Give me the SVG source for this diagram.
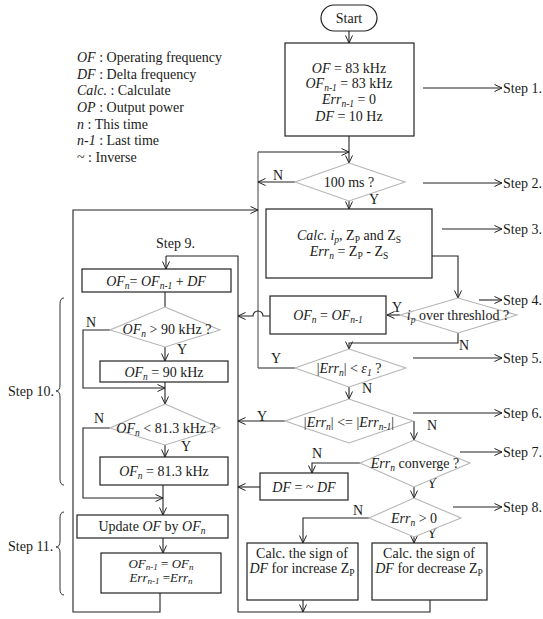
<svg xmlns="http://www.w3.org/2000/svg" width="543" height="619" viewBox="0 0 543 619">
<defs>
<marker id="ah" viewBox="0 0 8 8" refX="8" refY="4" markerWidth="8" markerHeight="8" orient="auto" markerUnits="userSpaceOnUse"><path d="M0.5,0.5 L8,4 L0.5,7.5" fill="none" stroke="#222" stroke-width="1"/></marker>
</defs>
<style>
text{font-family:"Liberation Serif","Times New Roman",serif;font-size:14px;fill:#1a1a1a}
.c{text-anchor:middle}
.i{font-style:italic}
.s{font-size:9.5px;baseline-shift:-3px}
.t{font-size:13px}
.t .s{font-size:9px;baseline-shift:-2px}
.box{fill:#fff;stroke:#222;stroke-width:1.2}
.dia{fill:#fff;stroke:#b5b5b5;stroke-width:1.1}
.ln{fill:none;stroke:#222;stroke-width:1.1}
.gr{fill:none;stroke:#777;stroke-width:1.4}
.ar{marker-end:url(#ah)}
.br{fill:none;stroke:#333;stroke-width:1}
</style>
<rect width="543" height="619" fill="#fff"/>

<g id="legend">
<text x="77" y="62"><tspan class="i">OF</tspan> : Operating frequency</text>
<text x="77" y="78.7"><tspan class="i">DF</tspan> : Delta frequency</text>
<text x="77" y="95.3"><tspan class="i">Calc.</tspan> : Calculate</text>
<text x="77" y="112"><tspan class="i">OP</tspan> : Output power</text>
<text x="77" y="128.7"><tspan class="i">n</tspan> : This time</text>
<text x="77" y="145.3"><tspan class="i">n-1</tspan> : Last time</text>
<text x="77" y="162">~ : Inverse</text>
</g>

<g id="connectors">
<path class="ln ar" d="M349,31 V43"/>
<path class="ln ar" d="M349,136 V163"/>
<path class="gr" d="M258,368 V152"/>
<path class="ln ar" d="M258,152 H349"/>
<path class="ln ar" d="M295,182 H258"/>
<path class="ln ar" d="M349,201 V209"/>
<path class="ln ar" d="M432,256 H458 V298"/>
<path class="ln ar" d="M400,315 H387"/>
<path class="ln ar" d="M270,316 H263 A5,5 0 0 0 253,316 H238"/>
<path class="ln ar" d="M458,333 V343 H349 V349"/>
<path class="ln" d="M295,368 H258"/>
<path class="ln ar" d="M349,387 V399"/>
<path class="ln ar" d="M285,421 H238"/>
<path class="ln ar" d="M414,421 V440"/>
<path class="ln ar" d="M360,463 H312 V473"/>
<path class="ln ar" d="M260,487 H238"/>
<path class="ln ar" d="M414,487 V498"/>
<path class="ln ar" d="M369,518 H303 V543"/>
<path class="ln ar" d="M414,532 V543"/>
<path class="ln ar" d="M303,600 V612"/>
<path class="ln" d="M430,600 V612 H238 V256 H166"/>
<path class="ln ar" d="M166,256 V269"/>
<path class="ln ar" d="M160,593 V612 H73 V210 H258"/>
<path class="ln" d="M165,292 V307"/>
<path class="ln ar" d="M110,330 H83 V388 H165"/>
<path class="ln ar" d="M165,347 V361"/>
<path class="ln ar" d="M165,382 V404"/>
<path class="ln ar" d="M110,428 H83 V498 H163"/>
<path class="ln ar" d="M165,445 V457"/>
<path class="ln ar" d="M163,485 V515"/>
<path class="ln ar" d="M163,538 V553"/>
<path class="ln ar" d="M423,88 H502"/>
<path class="ln ar" d="M423,183 H502"/>
<path class="ln ar" d="M442,229 H502"/>
<path class="ln ar" d="M479,300 H502"/>
<path class="ln ar" d="M413,358 H502"/>
<path class="ln ar" d="M413,413 H502"/>
<path class="ln ar" d="M460,452 H502"/>
<path class="ln ar" d="M453,507 H502"/>
</g>

<g id="labels">
<text x="273" y="180">N</text>
<text x="369" y="204">Y</text>
<text x="392" y="312">Y</text>
<text x="459" y="350">N</text>
<text x="271" y="363">Y</text>
<text x="362" y="393">N</text>
<text x="257" y="421">Y</text>
<text x="427" y="430">N</text>
<text x="312" y="458">N</text>
<text x="427" y="488">Y</text>
<text x="353" y="515">N</text>
<text x="427" y="538">Y</text>
<text x="86" y="327">N</text>
<text x="177" y="354">Y</text>
<text x="94" y="423">N</text>
<text x="181" y="451">Y</text>
<text x="503" y="93">Step 1.</text>
<text x="503" y="188">Step 2.</text>
<text x="503" y="234">Step 3.</text>
<text x="503" y="305">Step 4.</text>
<text x="503" y="363">Step 5.</text>
<text x="503" y="418">Step 6.</text>
<text x="503" y="457">Step 7.</text>
<text x="503" y="512">Step 8.</text>
<text x="156" y="248">Step 9.</text>
<text x="8" y="396">Step 10.</text>
<text x="8" y="551">Step 11.</text>
<path class="br" d="M64,298 Q60,298 60,304 V385 Q60,391 56,391 Q60,391 60,397 V479 Q60,485 64,485"/>
<path class="br" d="M64,512 Q60,512 60,518 V541 Q60,547 56,547 Q60,547 60,553 V589 Q60,595 64,595"/>
</g>

<g id="start">
<rect x="321" y="5" width="56" height="26" rx="13" class="box"/>
<text x="349" y="23" class="c">Start</text>
</g>

<g id="init">
<rect x="285" y="43" width="129" height="93" class="box"/>
<text x="349" y="73" class="c"><tspan class="i">OF</tspan> = 83 kHz</text>
<text x="349" y="88" class="c"><tspan class="i">OF</tspan><tspan class="s i">n-1</tspan> = 83 kHz</text>
<text x="349" y="104" class="c"><tspan class="i">Err</tspan><tspan class="s i">n-1</tspan> = 0</text>
<text x="349" y="121" class="c"><tspan class="i">DF</tspan> = 10 Hz</text>
</g>

<g id="d100ms">
<polygon points="349,163 405,182 349,201 295,182" class="dia"/>
<text x="349" y="187" class="c">100 ms ?</text>
</g>

<g id="calc">
<rect x="266" y="209" width="166" height="69" class="box"/>
<text x="349" y="240" class="c"><tspan class="i">Calc.</tspan> <tspan class="i">i</tspan><tspan class="s i">p</tspan>, Z<tspan class="s">P</tspan> and Z<tspan class="s">S</tspan></text>
<text x="349" y="256" class="c"><tspan class="i">Err</tspan><tspan class="s i">n</tspan> = Z<tspan class="s">P</tspan> - Z<tspan class="s">S</tspan></text>
</g>

<g id="dip">
<polygon points="458,298 517,315 458,333 400,315" class="dia"/>
<text x="458" y="320" class="c"><tspan class="i">i</tspan><tspan class="s i">p</tspan> over threshlod ?</text>
</g>

<g id="hold">
<rect x="270" y="296" width="116" height="38" class="box"/>
<text x="328" y="320" class="c"><tspan class="i">OF</tspan><tspan class="s i">n</tspan> = <tspan class="i">OF</tspan><tspan class="s i">n-1</tspan></text>
</g>

<g id="deps">
<polygon points="349,349 406,368 349,387 295,368" class="dia"/>
<text x="349" y="373" class="c">|<tspan class="i">Err</tspan><tspan class="s i">n</tspan>| &lt; <tspan class="i">ε</tspan><tspan class="s i">1</tspan> ?</text>
</g>

<g id="derr">
<polygon points="349,399 413,421 349,443 285,421" class="dia"/>
<text x="349" y="427" class="c">|<tspan class="i">Err</tspan><tspan class="s i">n</tspan>| &lt;= |<tspan class="i">Err</tspan><tspan class="s i">n-1</tspan>|</text>
</g>

<g id="dconv">
<polygon points="414,440 470,463 414,487 360,463" class="dia"/>
<text x="415" y="468" class="c"><tspan class="i">Err</tspan><tspan class="s i">n</tspan> converge ?</text>
</g>

<g id="inv">
<rect x="260" y="473" width="88" height="27" class="box"/>
<text x="304" y="492" class="c"><tspan class="i">DF</tspan> = ~ <tspan class="i">DF</tspan></text>
</g>

<g id="dsign">
<polygon points="414,498 461,518 414,537 369,518" class="dia"/>
<text x="414" y="523" class="c"><tspan class="i">Err</tspan><tspan class="s i">n</tspan> &gt; 0</text>
</g>

<g id="inc">
<rect x="247" y="543" width="111" height="57" class="box"/>
<text x="302" y="558" class="c">Calc. the sign of</text>
<text x="302" y="573" class="c"><tspan class="i">DF</tspan> for increase Z<tspan class="s">P</tspan></text>
</g>

<g id="dec">
<rect x="372" y="543" width="115" height="57" class="box"/>
<text x="429" y="558" class="c">Calc. the sign of</text>
<text x="429" y="573" class="c"><tspan class="i">DF</tspan> for decrease Z<tspan class="s">P</tspan></text>
</g>

<g id="addf">
<rect x="82" y="269" width="149" height="23" class="box"/>
<text x="156" y="286" class="c"><tspan class="i">OF</tspan><tspan class="s i">n</tspan>= <tspan class="i">OF</tspan><tspan class="s i">n-1</tspan> + <tspan class="i">DF</tspan></text>
</g>

<g id="dmax">
<polygon points="165,307 220,330 165,347 110,330" class="dia"/>
<text x="167" y="334" class="c"><tspan class="i">OF</tspan><tspan class="s i">n</tspan> &gt; 90 kHz ?</text>
</g>

<g id="setmax">
<rect x="100" y="361" width="128" height="21" class="box"/>
<text x="164" y="377" class="c"><tspan class="i">OF</tspan><tspan class="s i">n</tspan> = 90 kHz</text>
</g>

<g id="dmin">
<polygon points="165,404 220,428 165,445 110,428" class="dia"/>
<text x="166" y="433" class="c"><tspan class="i">OF</tspan><tspan class="s i">n</tspan> &lt; 81.3 kHz ?</text>
</g>

<g id="setmin">
<rect x="100" y="457" width="128" height="28" class="box"/>
<text x="164" y="476" class="c"><tspan class="i">OF</tspan><tspan class="s i">n</tspan> = 81.3 kHz</text>
</g>

<g id="update">
<rect x="77" y="515" width="151" height="23" class="box"/>
<text x="152" y="531" class="c">Update <tspan class="i">OF</tspan> by <tspan class="i">OF</tspan><tspan class="s i">n</tspan></text>
</g>

<g id="store">
<rect x="101" y="553" width="120" height="40" class="box"/>
<text x="161" y="568" class="c t"><tspan class="i">OF</tspan><tspan class="s i">n-1</tspan> = <tspan class="i">OF</tspan><tspan class="s i">n</tspan></text>
<text x="161" y="582" class="c t"><tspan class="i">Err</tspan><tspan class="s i">n-1</tspan> =<tspan class="i">Err</tspan><tspan class="s i">n</tspan></text>
</g>
</svg>
